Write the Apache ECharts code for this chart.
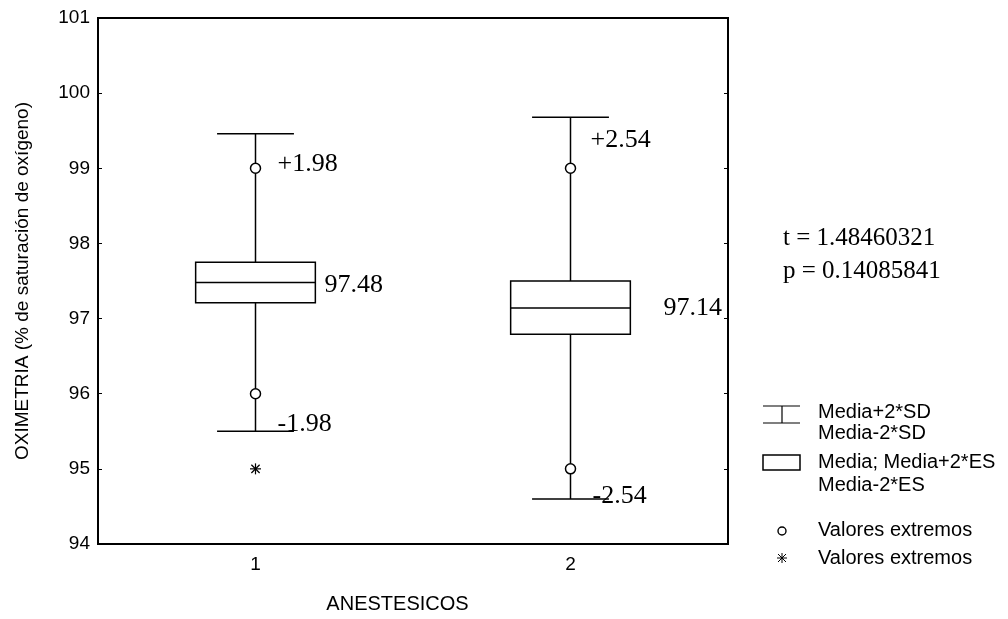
<!DOCTYPE html>
<html>
<head>
<meta charset="utf-8">
<script src="https://cdn.jsdelivr.net/npm/echarts@6/dist/echarts.min.js"></script>
<style>
html,body{margin:0;padding:0;background:#fff;}
#chart{width:1008px;height:619px;}
</style>
</head>
<body>
<div id="chart"></div>
<script>
// ---- data ----
const categories = ['1', '2'];
const means   = [97.48, 97.14];
const sdUpper = [99.46, 99.68];
const sdLower = [95.50, 94.60];
const esUpper = [97.75, 97.50];
const esLower = [97.21, 96.79];
const upperLabels = ['+1.98', '+2.54'];
const lowerLabels = ['-1.98', '-2.54'];
const meanLabels  = ['97.48', '97.14'];
const circleOutliers = [[0, 99], [0, 96], [1, 99], [1, 95]];
const starOutliers   = [[0, 95]];
const yMin = 94, yMax = 101, yStep = 1;
const statLines = ['t = 1.48460321', 'p = 0.14085841'];
const legendLines = ['Media+2*SD', 'Media-2*SD', 'Media; Media+2*ES', 'Media-2*ES', 'Valores extremos', 'Valores extremos'];
const xName = 'ANESTESICOS';
const yName = 'OXIMETRIA (% de saturación de oxígeno)';

const boxRows = categories.map((c, i) => [i, sdLower[i], esLower[i], means[i], esUpper[i], sdUpper[i]]);

const SANS = '"Liberation Sans", Arial, sans-serif';
const SERIF = '"Liberation Serif", "Times New Roman", serif';

// label placement (styling only)
const upDx = [22, 20], upDy = [30, 23];
const loDx = [22, 22], loDy = [-7, -3];
const meanDx = [69, 93], meanDy = [3, 0];

function renderBox(params, api) {
  const i = api.value(0);
  const band = api.size([1, 0])[0];
  const cx = api.coord([i, api.value(3)])[0];
  const ySdLo = api.coord([i, api.value(1)])[1];
  const yEsLo = api.coord([i, api.value(2)])[1];
  const yMean = api.coord([i, api.value(3)])[1];
  const yEsHi = api.coord([i, api.value(4)])[1];
  const ySdHi = api.coord([i, api.value(5)])[1];
  const bw = band * 0.38;
  const cw = band * 0.122;
  const ls = { stroke: '#000', lineWidth: 1.5, fill: null };
  const txt = (t, x, y) => ({ type: 'text', style: { text: t, x: x, y: y, font: '26px ' + SERIF, fill: '#000', align: 'left', verticalAlign: 'middle' } });
  return {
    type: 'group',
    children: [
      { type: 'line', shape: { x1: cx, y1: ySdHi, x2: cx, y2: yEsHi }, style: ls },
      { type: 'line', shape: { x1: cx, y1: yEsLo, x2: cx, y2: ySdLo }, style: ls },
      { type: 'line', shape: { x1: cx - cw, y1: ySdHi, x2: cx + cw, y2: ySdHi }, style: ls },
      { type: 'line', shape: { x1: cx - cw, y1: ySdLo, x2: cx + cw, y2: ySdLo }, style: ls },
      { type: 'rect', shape: { x: cx - bw / 2, y: yEsHi, width: bw, height: yEsLo - yEsHi }, style: { stroke: '#000', lineWidth: 1.5, fill: '#fff' } },
      { type: 'line', shape: { x1: cx - bw / 2, y1: yMean, x2: cx + bw / 2, y2: yMean }, style: ls },
      txt(upperLabels[i], cx + upDx[i], ySdHi + upDy[i]),
      txt(lowerLabels[i], cx + loDx[i], ySdLo + loDy[i]),
      txt(meanLabels[i], cx + meanDx[i], yMean + meanDy[i])
    ]
  };
}

function renderStar(params, api) {
  const p = api.coord([api.value(0), api.value(1)]);
  const r = 5.5;
  const s = { stroke: '#000', lineWidth: 1.2 };
  return {
    type: 'group',
    children: [
      { type: 'line', shape: { x1: p[0], y1: p[1] - r, x2: p[0], y2: p[1] + r }, style: s },
      { type: 'line', shape: { x1: p[0] - r, y1: p[1], x2: p[0] + r, y2: p[1] }, style: s },
      { type: 'line', shape: { x1: p[0] - r * 0.75, y1: p[1] - r * 0.75, x2: p[0] + r * 0.75, y2: p[1] + r * 0.75 }, style: s },
      { type: 'line', shape: { x1: p[0] - r * 0.75, y1: p[1] + r * 0.75, x2: p[0] + r * 0.75, y2: p[1] - r * 0.75 }, style: s }
    ]
  };
}

const legendTextStyle = (t, y) => ({ type: 'text', left: 818, top: y - 10, style: { text: t, font: '20px ' + SANS, fill: '#000' } });
const legendY = [412, 433, 462, 485, 530, 558];

const graphics = [
  // legend symbols
  { type: 'line', shape: { x1: 763, y1: 406, x2: 800, y2: 406 }, style: { stroke: '#000', lineWidth: 1.2 } },
  { type: 'line', shape: { x1: 782, y1: 406, x2: 782, y2: 423 }, style: { stroke: '#000', lineWidth: 1.2 } },
  { type: 'line', shape: { x1: 763, y1: 423, x2: 800, y2: 423 }, style: { stroke: '#000', lineWidth: 1.2 } },
  { type: 'rect', shape: { x: 763, y: 455, width: 37, height: 15 }, style: { stroke: '#000', lineWidth: 1.5, fill: '#fff' } },
  { type: 'circle', shape: { cx: 782, cy: 531, r: 4 }, style: { stroke: '#000', lineWidth: 1.4, fill: '#fff' } },
  { type: 'line', shape: { x1: 782, y1: 553, x2: 782, y2: 563 }, style: { stroke: '#000', lineWidth: 1 } },
  { type: 'line', shape: { x1: 777, y1: 558, x2: 787, y2: 558 }, style: { stroke: '#000', lineWidth: 1 } },
  { type: 'line', shape: { x1: 778, y1: 554, x2: 786, y2: 562 }, style: { stroke: '#000', lineWidth: 1 } },
  { type: 'line', shape: { x1: 778, y1: 562, x2: 786, y2: 554 }, style: { stroke: '#000', lineWidth: 1 } },
  // stats text
  { type: 'text', left: 783, top: 239 - 13, style: { text: statLines[0], font: '25px ' + SERIF, fill: '#000' } },
  { type: 'text', left: 783, top: 272 - 13, style: { text: statLines[1], font: '25px ' + SERIF, fill: '#000' } }
].concat(legendLines.map((t, k) => legendTextStyle(t, legendY[k])));

const chart = echarts.init(document.getElementById('chart'));
chart.setOption({
  backgroundColor: '#fff',
  animation: false,
  grid: { left: 98, right: 280, top: 18, bottom: 71, show: true, borderColor: '#000', borderWidth: 2, backgroundColor: 'transparent' },
  xAxis: {
    type: 'category',
    data: categories,
    boundaryGap: true,
    name: xName,
    nameLocation: 'middle',
    nameGap: 50,
    nameTextStyle: { fontFamily: SANS, fontSize: 20, color: '#000', padding: [0, 31, 0, 0] },
    axisLine: { lineStyle: { color: '#000', width: 2 } },
    axisTick: { inside: true, length: 4, lineStyle: { color: '#000' } },
    axisLabel: { fontFamily: SANS, fontSize: 19, color: '#000', margin: 11 },
    splitLine: { show: false }
  },
  yAxis: [{
    type: 'value',
    min: yMin, max: yMax, interval: yStep,
    name: yName,
    nameLocation: 'middle',
    nameGap: 66,
    nameTextStyle: { fontFamily: SANS, fontSize: 19, color: '#000' },
    axisLine: { show: true, lineStyle: { color: '#000', width: 2 } },
    axisTick: { show: true, inside: true, length: 4, lineStyle: { color: '#000' } },
    axisLabel: { fontFamily: SANS, fontSize: 19, color: '#000', margin: 8 },
    splitLine: { show: false }
  }, {
    type: 'value',
    position: 'right',
    min: yMin, max: yMax, interval: yStep,
    axisLine: { show: true, lineStyle: { color: '#000', width: 2 } },
    axisTick: { show: true, inside: true, length: 4, lineStyle: { color: '#000' } },
    axisLabel: { show: false },
    splitLine: { show: false }
  }],
  series: [
    {
      type: 'custom',
      renderItem: renderBox,
      encode: { x: 0, y: [1, 2, 3, 4, 5] },
      data: boxRows,
      z: 2
    },
    {
      type: 'scatter',
      data: circleOutliers,
      symbol: 'circle',
      symbolSize: 10,
      itemStyle: { color: '#fff', borderColor: '#000', borderWidth: 1.5, opacity: 1 },
      z: 5
    },
    {
      type: 'custom',
      renderItem: renderStar,
      encode: { x: 0, y: 1 },
      data: starOutliers,
      z: 5
    }
  ],
  graphic: graphics
});
</script>
</body>
</html>
